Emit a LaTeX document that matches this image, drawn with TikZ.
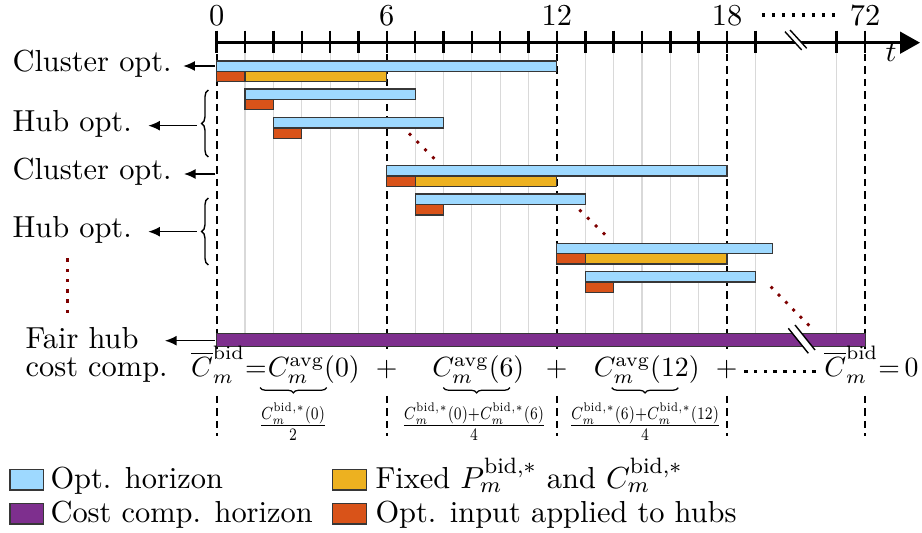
\documentclass[tikz,border=0pt]{standalone}
\usepackage{graphicx}
\usepackage{amsmath}
\usetikzlibrary{arrows.meta,decorations.pathreplacing}
\definecolor{cblue}{RGB}{158,217,255}
\definecolor{cyel}{RGB}{237,177,32}
\definecolor{cred}{RGB}{217,83,25}
\definecolor{cpur}{RGB}{126,47,142}
\definecolor{cdot}{RGB}{125,0,0}
\definecolor{cedge}{RGB}{55,55,55}
\newcommand{\frcbox}[2]{\scalebox{0.71}[0.9]{$\tfrac{#1}{#2}$}}
\begin{document}
\begin{tikzpicture}[x=0.36pt,y=-0.36pt,
  font=\fontsize{10.95}{13}\selectfont,
  bar/.style={draw=cedge,line width=0.4pt},
  lab/.style={anchor=base west,inner sep=0pt},
  num/.style={anchor=base,inner sep=0pt},
  fml/.style={inner sep=0pt,font=\fontsize{10}{12}\selectfont},
  frc/.style={inner sep=0pt,anchor=north,font=\fontsize{10}{12}\selectfont},
  larr/.style={-{Latex[length=4.2pt,width=3.6pt]},line width=0.5pt},
  gridln/.style={black!15,line width=0.4pt},
  vdash/.style={line width=0.8pt,dash pattern=on 2.6pt off 1.9pt},
  tickln/.style={line width=0.9pt},
  brc/.style={decorate,decoration={brace,amplitude=2.4pt},line width=0.5pt},
  ubrace/.style={decorate,decoration={brace,amplitude=1.9pt},line width=0.45pt},
  brk/.style={line width=0.5pt}]
\useasboundingbox (0,0) rectangle (922,533);

% ---------- chart (x in hours) ----------
\begin{scope}[shift={(216.7,0)},x=10.206pt]
  \foreach \h in {1,...,5,7,8,...,11,13,14,...,17,19,21.87}
    \draw[gridln] (\h,53) -- (\h,333);
  \foreach \h in {0,6,12,18,22.87}{
    \draw[vdash] (\h,54) -- (\h,350);
    \draw[vdash] (\h,396) -- (\h,436);
  }
  % axis ticks
  \foreach \h in {0,...,19,21.87,22.87}
    \draw[tickln] (\h,30.7) -- (\h,53.3);
  % axis labels
  \node[num] (n0)  at (0,25.5)  {0};
  \node[num] (n6)  at (6,25.5)  {6};
  \node[num] (n12) at (12,25.5) {12};
  \node[num] (n18) at (18,25.5) {18};
  \node[num] (n72) at (22.87,25.5) {72};
  % cluster 1
  \draw[bar,fill=cblue] (0,61) rectangle (12,71.3);
  \draw[bar,fill=cred]  (0,71.3) rectangle (1,81.8);
  \draw[bar,fill=cyel]  (1,71.3) rectangle (6,81.8);
  \draw[bar,fill=cblue] (1,89) rectangle (7,99.3);
  \draw[bar,fill=cred]  (1,99.3) rectangle (2,109.8);
  \draw[bar,fill=cblue] (2,117.5) rectangle (8,128);
  \draw[bar,fill=cred]  (2,128) rectangle (3,138.3);
  % cluster 2
  \draw[bar,fill=cblue] (6,165.7) rectangle (18,176);
  \draw[bar,fill=cred]  (6,176) rectangle (7,186.7);
  \draw[bar,fill=cyel]  (7,176) rectangle (12,186.7);
  \draw[bar,fill=cblue] (7,194) rectangle (13,204.3);
  \draw[bar,fill=cred]  (7,204.3) rectangle (8,215);
  % cluster 3
  \draw[bar,fill=cblue] (12,243.3) rectangle (19.61,253.5);
  \draw[bar,fill=cred]  (12,253.5) rectangle (13,264);
  \draw[bar,fill=cyel]  (13,253.5) rectangle (18,264);
  \draw[bar,fill=cblue] (13,271.7) rectangle (19,282);
  \draw[bar,fill=cred]  (13,282) rectangle (14,292.3);
  % fair cost computation horizon
  \draw[bar,fill=cpur] (0,333.3) rectangle (22.87,346.7);
\end{scope}

% ---------- time axis ----------
\draw[line width=1pt,-{Triangle[length=7.2pt,width=7.8pt]}] (216.7,42.7) -- (920,42.7);
\node[anchor=base,inner sep=0pt] (tlab) at (891,61.7) {$t$};
\foreach \i in {0,...,7}
  \fill ({763.3+10*\i-1.7},13.3) rectangle ++(3.4,3.4);
% axis break
\fill[white] (785,31.7) -- (801.7,50) -- (806.7,48.3) -- (790,30) -- cycle;
\draw[brk] (785,31.7) -- (801.7,50);
\draw[brk] (790,30) -- (806.7,48.3);
% bar break
\fill[white] (788.3,328.3) -- (808.3,353.3) -- (815,350) -- (795,325) -- cycle;
\draw[brk] (788.3,328.3) -- (808.3,353.3);
\draw[brk] (795,325) -- (815,350);

% ---------- dotted continuation marks ----------
\foreach \i in {0,...,3}
  \fill[cdot,shift={({410+7.77*\i},{134.3+7.8*\i})}] (-2,0) -- (0,-2) -- (2,0) -- (0,2) -- cycle;
\foreach \i in {0,...,3}
  \fill[cdot,shift={({580.3+7.9*\i},{210.7+7.67*\i})}] (-2,0) -- (0,-2) -- (2,0) -- (0,2) -- cycle;
\foreach \i in {0,...,5}
  \fill[cdot,shift={({771.7+7.3*\i},{287.7+7.4*\i})}] (-2,0) -- (0,-2) -- (2,0) -- (0,2) -- cycle;
\foreach \i in {0,...,5}
  \fill[cdot] (65.6,{258.3+10.3*\i}) rectangle ++(3.4,3.4);

% ---------- left labels ----------
\node[lab] (cl1) at (12,71.7)  {Cluster opt.};
\node[lab] (hb1) at (12,131.4) {Hub opt.};
\node[lab] (cl2) at (12,179.7) {Cluster opt.};
\node[lab] (hb2) at (12,237.4) {Hub opt.};
\node[lab] (fh1) at (25,349)   {Fair hub};
\node[lab] (fh2) at (25,377)   {cost comp.};

\coordinate (s1) at (215,66);    \coordinate (e1) at (183.3,66);
\coordinate (s2) at (196.7,125.7); \coordinate (e2) at (148.3,125.7);
\coordinate (s3) at (215,174);   \coordinate (e3) at (184,174);
\coordinate (s4) at (196.7,231.7); \coordinate (e4) at (148.3,231.7);
\coordinate (s5) at (215,340.7); \coordinate (e5) at (165,340.7);
\draw[larr] (s1) -- (e1);
\draw[larr] (s2) -- (e2);
\draw[larr] (s3) -- (e3);
\draw[larr] (s4) -- (e4);
\draw[larr] (s5) -- (e5);
\coordinate (b1a) at (208.3,157); \coordinate (b1b) at (208.3,90);
\coordinate (b2a) at (208.3,265); \coordinate (b2b) at (208.3,198);
\draw[brc] (b1a) -- (b1b);
\draw[brc] (b2a) -- (b2b);

% ---------- formula row ----------
\node[fml,anchor=base west] (eq0) at (190.5,376.7) {$\overline{C}_m^{\text{bid}}{=}$};
\node[fml,anchor=base west] (a0) at (eq0.base east) {$C_m^{\text{avg}}(0)$};
\node[fml,anchor=base] (p1) at (386.7,376.7) {$+$};
\node[fml,anchor=base] (a6) at (478.3,376.7) {$C_m^{\text{avg}}(6)$};
\node[fml,anchor=base] (p2) at (556.7,376.7) {$+$};
\node[fml,anchor=base] (a12) at (646.7,376.7) {$C_m^{\text{avg}}(12)$};
\node[fml,anchor=base] (p3) at (726.7,376.7) {$+$};
\foreach \i in {0,...,7}
  \fill ({746+9.7*\i-1.7},369.8) rectangle ++(3.4,3.4);
\node[fml,anchor=base east] (f4) at (919,376.7) {$\overline{C}_m^{\text{bid}}{=}\,0$};
% braces under the averages
\coordinate (u0a) at (326.7,387.6); \coordinate (u0b) at (260,387.6);
\coordinate (u6a) at (510,387.6);   \coordinate (u6b) at (443.3,387.6);
\coordinate (u12a) at (678.3,387.6); \coordinate (u12b) at (611.7,387.6);
\draw[ubrace] (u0a) -- (u0b);
\draw[ubrace] (u6a) -- (u6b);
\draw[ubrace] (u12a) -- (u12b);
\node[frc] (q0) at (293,402.5)
  {\frcbox{C_m^{\text{bid},*}(0)}{2}};
\node[frc] (q6) at (474,402.5)
  {\frcbox{C_m^{\text{bid},*}(0)+C_m^{\text{bid},*}(6)}{4}};
\node[frc] (q12) at (645,402.5)
  {\frcbox{C_m^{\text{bid},*}(6)+C_m^{\text{bid},*}(12)}{4}};

% ---------- legend ----------
\draw[bar,fill=cblue] (10,469.3) rectangle (43.3,490);
\node[lab] (l1) at (50,488.5) {Opt. horizon};
\draw[bar,fill=cyel] (332.7,469.3) rectangle (366.7,490);
\node[lab] (l2) at (375,488.5) {Fixed $P_m^{\text{bid},*}$ and $C_m^{\text{bid},*}$};
\draw[bar,fill=cpur] (10,503.3) rectangle (43.3,524);
\node[lab] (l3) at (50,522.5) {Cost comp. horizon};
\draw[bar,fill=cred] (332.7,503.3) rectangle (366.7,524);
\node[lab] (l4) at (375,522.5) {Opt. input applied to hubs};
\end{tikzpicture}
\end{document}
